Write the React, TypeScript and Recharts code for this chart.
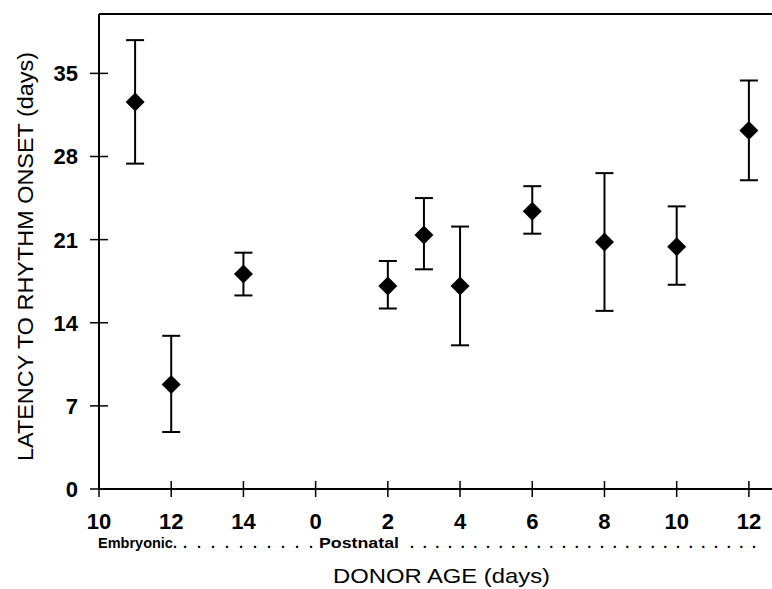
import React from "react";
import { ScatterChart, Scatter, XAxis, YAxis, ErrorBar, ReferenceLine } from "recharts";

// x position on the broken age axis: tick index 0..9 = E10, E12, E14, P0, P2 ... P12
const tickPositions = [0, 1, 2, 3, 4, 5, 6, 7, 8, 9];
const tickLabels = ["10", "12", "14", "0", "2", "4", "6", "8", "10", "12"];
const yTicks = [0, 7, 14, 21, 28, 35];

const donorAges = ["E11", "E12", "E14", "P2", "P3", "P4", "P6", "P8", "P10", "P12"];
const agePositions = [0.5, 1, 2, 4, 4.5, 5, 6, 7, 8, 9];
const meanLatency = [32.6, 8.8, 18.1, 17.1, 21.4, 17.1, 23.4, 20.8, 20.4, 30.2];
const upperLatency = [37.8, 12.9, 19.9, 19.2, 24.5, 22.1, 25.5, 26.6, 23.8, 34.4];
const lowerLatency = [27.4, 4.8, 16.3, 15.2, 18.5, 12.1, 21.5, 15.0, 17.2, 26.0];

const data = donorAges.map((age, i) => ({
  age,
  pos: agePositions[i],
  latency: meanLatency[i],
  err: [meanLatency[i] - lowerLatency[i], upperLatency[i] - meanLatency[i]],
}));

const FONT = "'Liberation Sans', Arial, Helvetica, sans-serif";
const AXIS_X = 99; // y axis line (= YAxis width)
const AXIS_Y = 489; // x axis line

const Diamond = (props: any) => {
  const { cx, cy } = props;
  const r = 9.5;
  return <polygon points={`${cx},${cy - r} ${cx + r},${cy} ${cx},${cy + r} ${cx - r},${cy}`} fill="#000" />;
};

// tick marks cross the axis line on both sides
const YTick = ({ y, payload }: any) => (
  <g>
    <line x1={AXIS_X - 9} x2={AXIS_X + 9} y1={y} y2={y} stroke="#000" strokeWidth={1.5} />
    <text x={AXIS_X - 21} y={y} dy="0.36em" textAnchor="end" fontFamily={FONT} fontWeight="bold" fontSize={22} fill="#000">
      {payload.value}
    </text>
  </g>
);

const XTick = ({ x, payload }: any) => (
  <g>
    <line x1={x} x2={x} y1={AXIS_Y - 8} y2={AXIS_Y + 8} stroke="#000" strokeWidth={1.5} />
    <text x={x} y={529} textAnchor="middle" fontFamily={FONT} fontWeight="bold" fontSize={22} fill="#000">
      {tickLabels[payload.value]}
    </text>
  </g>
);

const XLabel = () => (
  <g fontFamily={FONT} fill="#000">
    <text x={98} y={548} fontSize={14.5} fontWeight="bold">Embryonic.</text>
    <text x={183} y={548} fontSize={14.5} fontWeight="bold" textLength={130} lengthAdjust="spacing">. . . . . . . . . .</text>
    <text x={319} y={548} fontSize={14.5} fontWeight="bold" textLength={80} lengthAdjust="spacingAndGlyphs">Postnatal</text>
    <text x={410} y={548} fontSize={14.5} fontWeight="bold" textLength={346} lengthAdjust="spacing">. . . . . . . . . . . . . . . . . . . . . . . . . . . .</text>
    <text x={333} y={583} fontSize={21} textLength={217} lengthAdjust="spacingAndGlyphs">DONOR AGE (days)</text>
  </g>
);

const YLabel = () => (
  <text
    x={0}
    y={0}
    transform="translate(33, 461) rotate(-90)"
    fontFamily={FONT}
    fontSize={22}
    fill="#000"
    textLength={409}
    lengthAdjust="spacingAndGlyphs"
  >
    LATENCY TO RHYTHM ONSET (days)
  </text>
);

export default function App() {
  return (
    <div style={{ position: "absolute", left: 0, top: 0, width: 772, height: 589, background: "#fff" }}>
      <ScatterChart width={772} height={589} margin={{ top: 14, right: 0, bottom: 0, left: 0 }}>
        <XAxis
          type="number"
          dataKey="pos"
          domain={[0, 9.32]}
          ticks={tickPositions}
          allowDataOverflow
          height={100}
          tickLine={false}
          axisLine={{ stroke: "#000", strokeWidth: 2 }}
          tick={<XTick />}
          label={<XLabel />}
          interval={0}
        />
        <YAxis
          type="number"
          dataKey="latency"
          domain={[0, 40]}
          ticks={yTicks}
          width={AXIS_X}
          tickLine={false}
          axisLine={{ stroke: "#000", strokeWidth: 2 }}
          tick={<YTick />}
          label={<YLabel />}
          interval={0}
        />
        <ReferenceLine y={40} stroke="#000" strokeWidth={2} />
        <Scatter data={data} dataKey="latency" shape={<Diamond />} isAnimationActive={false}>
          <ErrorBar dataKey="err" direction="y" width={9} stroke="#000" strokeWidth={2} isAnimationActive={false} />
        </Scatter>
      </ScatterChart>
    </div>
  );
}
